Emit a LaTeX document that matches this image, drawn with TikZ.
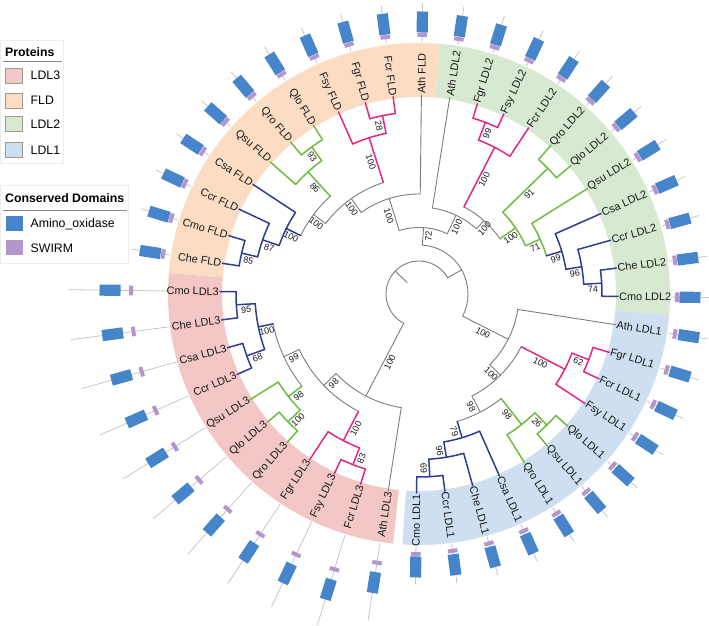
\documentclass[tikz,border=0pt]{standalone}
\usepackage{fontspec}
\setmainfont{Liberation Sans}
\usetikzlibrary{calc}

\definecolor{pk}{RGB}{226,40,128}
\definecolor{gn}{RGB}{112,188,66}
\definecolor{bu}{RGB}{46,60,150}
\definecolor{gy}{RGB}{125,125,125}
\definecolor{rfld}{RGB}{252,221,195}
\definecolor{rtwo}{RGB}{216,233,209}
\definecolor{rone}{RGB}{205,223,240}
\definecolor{rthree}{RGB}{243,199,197}
\definecolor{amino}{RGB}{70,133,201}
\definecolor{swirm}{RGB}{180,150,206}

\tikzset{
  brgy/.style={draw=gy,line width=0.9pt,line cap=round},
  brpk/.style={draw=pk,line width=1.5pt,line cap=round},
  brgn/.style={draw=gn,line width=1.5pt,line cap=round},
  brbu/.style={draw=bu,line width=1.5pt,line cap=round},
  lf/.style={font=\fontsize{10.9}{12}\selectfont,inner sep=1pt,text=black!90},
  bs/.style={font=\fontsize{9}{10}\selectfont,inner sep=2.2pt,anchor=north,text=black!90},
  dln/.style={draw=black!22,line width=0.8pt},
  lgt/.style={font=\fontsize{12.3}{14}\selectfont\bfseries,inner sep=0pt},
  lgi/.style={font=\fontsize{12.3}{14}\selectfont,inner sep=0pt},
  lbox/.style={draw=black!40,line width=0.6pt,minimum width=17pt,minimum height=15pt,inner sep=0pt},
  ul/.style={draw=black!45,line width=0.8pt}
}

\begin{document}
\begin{tikzpicture}[x=1pt,y=1pt]
\useasboundingbox (0,0) rectangle (709,626);

\draw[black!7,fill=white] (0,463) rectangle (63,586);
\draw[black!7,fill=white] (0,363) rectangle (128,441);
\node[lgt,anchor=west] (ptitle) at (5,574) {Proteins};
\draw[ul] (3,565) -- (62,565);
\foreach \y/\t/\c in {75.7/LDL3/rthree,100.7/FLD/rfld,124.3/LDL2/rtwo,150/LDL1/rone}
{
\node[lbox,fill=\c] (p\t) at (13.5,626-\y) {};
\node[lgi,anchor=west] at (30.5,626-\y) {\t};
}
\node[lgt,anchor=west] (dtitle) at (5,428) {Conserved Domains};
\draw[ul] (3,416) -- (127,416);
\node[lbox,draw=none,fill=amino] (damino) at (14.3,402) {};
\node[lgi,anchor=west] at (30.5,402) {Amino\_oxidase};
\node[lbox,draw=none,fill=swirm] (dswirm) at (14.3,378) {};
\node[lgi,anchor=west] at (30.5,378) {SWIRM};

\begin{scope}[shift={(419,332)}]
\foreach \s/\e/\c in {175.2/85.2/rfld,85.2/-4.8/rtwo,-4.8/-93.8/rone,-95.9/-184.8/rthree}
\fill[\c] (\s:197) arc[start angle=\s,end angle=\e,radius=197pt] -- (\e:251) arc[start angle=\e,end angle=\s,radius=251pt] -- cycle;

\foreach \i/\p/\b/\e in {-10/259/272/291,-9/259/272/291,-8/259/272/291,-7/259/272/291,-6/259/272/291,-5/259/272/291,-4/259/272/291,-3/259/272/291,-2/259/272/291,-1/259/272/291,0/259/272/291,1/258/271/291,2/258/271/291,3/258/271/291,4/258/271/291,5/258/271/291,6/258/271/291,7/258/271/291,8/258/271/291,9/258/271/291,10/258/271/291,11/258/271/291,12/259/273/292,13/259/273/292,14/259/273/292,15/259/273/292,16/259/273/292,17/259/273/292,18/259/273/292,19/259/273/292,20/259/273/292,21/259/273/292,22/260/273/290,23/272/292/330,24/288/309/346,25/288/309/346,26/288/309/347,27/288/309/348,28/288/309/348,29/288/309/349,30/288/309/349,31/288/309/350,32/288/309/351,33/288/309/351}
{
\pgfmathsetmacro\a{89.3-8.181818*\i}
\begin{scope}[rotate=\a]
\draw[dln] (252,0) -- (\e,0);
\fill[amino] (\b-10.5,-5.6) rectangle (\b+10.5,5.6);
\fill[swirm] (\p-2,-4.8) rectangle (\p+2,4.8);
\end{scope}
}

\pgfmathsetmacro\a{89.3+8.181818*5.71}
\draw[brgy] (\a:16.5) -- (\a:33);
\pgfmathsetmacro\p{89.3+8.181818*18.72}
\pgfmathsetmacro\q{89.3-8.181818*7.299}
\draw[brgy] (\p:33) arc[start angle=\p,end angle=\q,radius=33pt];
\draw[brgy] (\q:33) -- (\q:49);

\foreach \rp/\rn/\n/\u/\v/\c/\s in {
49/49/7.299/0.3945/14.203/gy/{},
49/66.5/0.3945/-2.203/2.992/gy/72,
66.5/100/-2.203/0/-4.406/gy/100,
100/117/-4.406/-2.25/-6.5625/gy/100,
117/164/-2.25/-3/-1.5/pk/100,
164/182/-1.5/-2/-1/pk/28,
117/132/-6.5625/-5.25/-7.875/gy/100,
132/165/-5.25/-6/-4.5/gn/86,
165/182/-4.5/-5/-4/gn/93,
132/148/-7.875/-7/-8.75/bu/100,
148/165.5/-8.75/-8/-9.5/bu/87,
165.5/182/-9.5/-9/-10/bu/85,
66.5/87/2.992/1/4.984/gy/100,
87/98/4.984/3.25/6.71875/gy/100,
98/165/3.25/2.5/4/pk/100,
165/184/2.5/2/3/pk/99,
98/117/6.71875/5.5/7.9375/gn/100,
117/180/5.5/5/6/gn/91,
117/133/7.9375/7/8.875/gn/71,
133/149/8.875/8/9.75/bu/99,
149/165/9.75/9/10.5/bu/96,
165/183/10.5/10/11/bu/74,
49/100/14.203/12/16.406/gy/100,
100/115/16.406/14.25/18.5625/gy/100,
115/164/14.25/13.5/15/pk/100,
164/182/13.5/13/14/pk/62,
115/133/18.5625/17.25/19.875/gy/98,
133/166/17.25/16.5/18/gn/98,
166/183/16.5/16/17/gn/26,
133/150/19.875/19/20.75/bu/79,
150/165.5/20.75/20/21.5/bu/96,
165.5/183/21.5/21/22/bu/69,
33/115/25.28/23/27.5625/gy/100,
115/132/27.5625/25.25/29.875/gy/98,
132/165/25.25/24.5/26/pk/100,
165/183/24.5/24/25/pk/83,
132/149/29.875/28.25/31.5/gy/99,
149/166/28.25/27.5/29/gn/98,
166/183/27.5/27/28/gn/100,
149/164/31.5/30.5/32.5/bu/100,
164/183/30.5/30/31/bu/68,
164/183/32.5/32/33/bu/95}
{
\pgfmathsetmacro\a{89.3-8.181818*\n}
\pgfmathsetmacro\p{89.3-8.181818*\u}
\pgfmathsetmacro\q{89.3-8.181818*\v}
\pgfmathsetmacro\m{(\rp+\rn)/2}
\pgfmathtruncatemacro\lft{(\a<-90)||(\a>90)}
\draw[br\c] (\a:\rp) -- (\a:\rn);
\draw[br\c] (\p:\rn) arc[start angle=\p,end angle=\q,radius=\rn pt];
\ifnum\lft=1
\node[bs,rotate=\a+180] at (\a:\m) {\s};
\else
\node[bs,rotate=\a] at (\a:\m) {\s};
\fi
}

\foreach \i/\t/\r/\c in {
0/Ath FLD/100/gy,-1/Fcr FLD/182/pk,-2/Fgr FLD/182/pk,-3/Fsy FLD/164/pk,
-4/Qlo FLD/182/gn,-5/Qro FLD/182/gn,-6/Qsu FLD/165/gn,
-7/Csa FLD/148/bu,-8/Ccr FLD/165.5/bu,-9/Cmo FLD/182/bu,-10/Che FLD/182/bu,
1/Ath LDL2/87/gy,2/Fgr LDL2/184/pk,3/Fsy LDL2/184/pk,4/Fcr LDL2/165/pk,
5/Qro LDL2/180/gn,6/Qlo LDL2/180/gn,7/Qsu LDL2/133/gn,
8/Csa LDL2/149/bu,9/Ccr LDL2/165/bu,10/Che LDL2/183/bu,11/Cmo LDL2/183/bu,
12/Ath LDL1/100/gy,13/Fgr LDL1/182/pk,14/Fcr LDL1/182/pk,15/Fsy LDL1/164/pk,
16/Qlo LDL1/183/gn,17/Qsu LDL1/183/gn,18/Qro LDL1/166/gn,
19/Csa LDL1/150/bu,20/Che LDL1/165.5/bu,21/Ccr LDL1/183/bu,22/Cmo LDL1/183/bu,
23/Ath LDL3/115/gy,24/Fcr LDL3/183/pk,25/Fsy LDL3/183/pk,26/Fgr LDL3/165/pk,
27/Qro LDL3/183/gn,28/Qlo LDL3/183/gn,29/Qsu LDL3/166/gn,
30/Ccr LDL3/183/bu,31/Csa LDL3/183/bu,32/Che LDL3/183/bu,33/Cmo LDL3/183/bu}
{
\pgfmathsetmacro\a{89.3-8.181818*\i}
\pgfmathtruncatemacro\lft{(\a<-90)||(\a>90)}
\draw[br\c] (\a:\r) -- (\a:199);
\ifnum\lft=1
\node[lf,rotate=\a+180,anchor=east] (l\i) at (\a:199) {\t};
\else
\node[lf,rotate=\a,anchor=west] (l\i) at (\a:199) {\t};
\fi
}
\end{scope}
\end{tikzpicture}
\end{document}
